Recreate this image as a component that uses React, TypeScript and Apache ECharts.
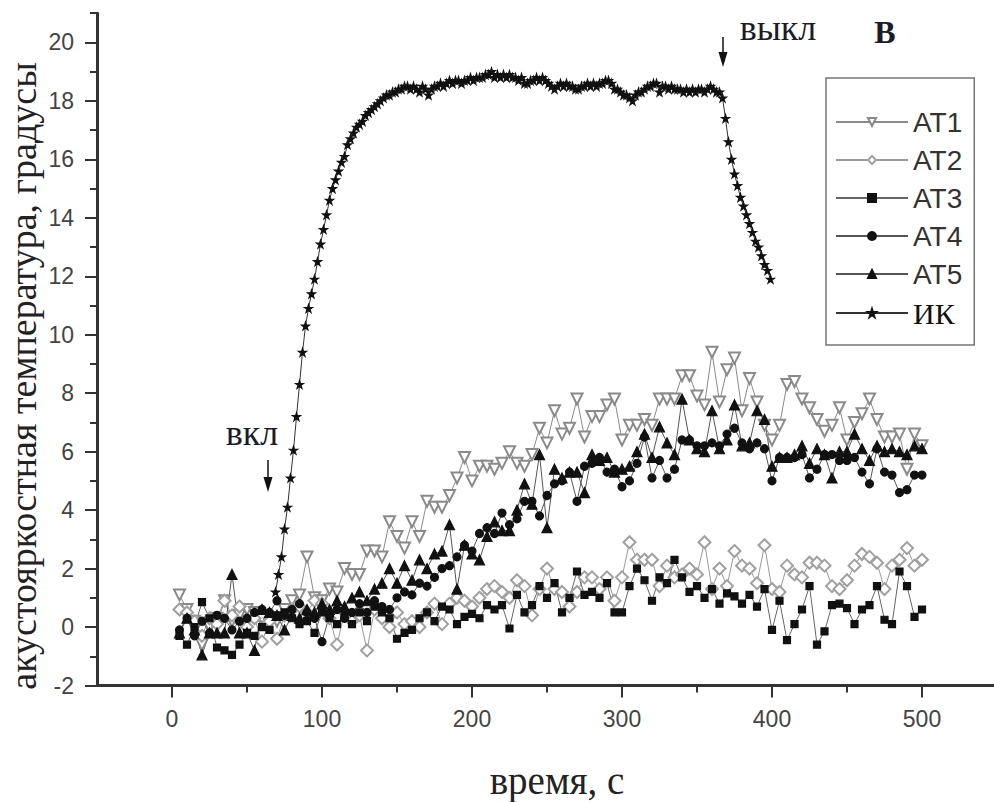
import React, { useEffect, useRef } from "react";
import * as echarts from "echarts";

// time grid of the acoustic channels (s)
const atTime = [
  5, 10, 15, 20, 25, 30, 35, 40, 45, 50,
  55, 60, 65, 70, 75, 80, 85, 90, 95, 100,
  105, 110, 115, 120, 125, 130, 135, 140, 145, 150,
  155, 160, 165, 170, 175, 180, 185, 190, 195, 200,
  205, 210, 215, 220, 225, 230, 235, 240, 245, 250,
  255, 260, 265, 270, 275, 280, 285, 290, 295, 300,
  305, 310, 315, 320, 325, 330, 335, 340, 345, 350,
  355, 360, 365, 370, 375, 380, 385, 390, 395, 400,
  405, 410, 415, 420, 425, 430, 435, 440, 445, 450,
  455, 460, 465, 470, 475, 480, 485, 490, 495, 500,
];

const at1 = [
  1.1, 0.6, 0.2, -0.6, 0.0, 0.3, 0.9, 0.2, 0.4, 0.6,
  0.5, 0.3, 0.1, 0.2, 0.6, 0.9, 1.1, 2.4, 1.0, 0.9,
  1.3, 1.2, 2.0, 1.8, 1.8, 2.6, 2.6, 2.4, 3.6, 3.1,
  2.7, 3.6, 3.1, 4.3, 4.1, 4.1, 4.5, 5.1, 5.8, 5.0,
  5.5, 5.5, 5.4, 5.6, 6.0, 5.6, 5.5, 5.9, 6.8, 6.3,
  7.4, 6.6, 6.8, 7.8, 6.5, 7.2, 7.2, 7.6, 7.8, 6.4,
  6.9, 6.9, 7.1, 6.9, 7.8, 7.8, 7.8, 8.6, 8.6, 7.9,
  7.6, 9.4, 7.7, 8.8, 9.2, 7.4, 8.5, 7.7, 6.9, 6.4,
  6.9, 8.3, 8.4, 7.8, 7.5, 7.1, 6.7, 6.9, 7.5, 6.4,
  7.0, 7.3, 7.8, 7.1, 6.5, 6.5, 6.6, 5.4, 6.6, 6.2,
];

const at2 = [
  0.6, 0.5, 0.2, -0.3, 0.3, 0.1, 0.9, 0.4, 0.7, 0.0,
  0.3, -0.5, 0.2, -0.4, 0.4, 0.6, 0.7, 0.5, 0.9, 0.8,
  0.3, -0.6, 0.5, 0.2, 0.4, -0.8, 0.6, 0.3, 0.0, 0.5,
  0.1, 0.2, 0.0, 0.5, 0.8, 0.1, 0.8, 1.0, 0.9, 0.7,
  1.0, 1.3, 1.4, 1.2, 1.0, 1.6, 1.4, 0.4, 1.3, 2.0,
  1.3, 1.2, 0.7, 1.2, 1.7, 1.7, 1.3, 1.7, 0.9, 1.7,
  2.9, 2.3, 2.3, 2.3, 1.4, 2.1, 1.7, 1.8, 2.0, 1.8,
  2.9, 1.3, 2.0, 1.4, 2.6, 2.1, 2.0, 1.5, 2.8, 1.3,
  1.2, 2.1, 1.8, 1.7, 2.2, 2.2, 2.1, 1.4, 1.3, 1.6,
  2.1, 2.5, 2.4, 2.2, 1.3, 2.1, 2.3, 2.7, 2.1, 2.3,
];

const at3 = [
  -0.3, -0.6, 0.0, 0.85, 0.3, -0.7, -0.8, -0.95, -0.6, -0.2,
  -0.3, 0.0, -0.1, 0.4, 0.5, 0.3, 0.1, 0.2, -0.2, 0.5,
  0.3, 0.1, 0.4, 0.1, 0.5, 0.2, 0.7, 0.5, 0.3, -0.4,
  -0.2, -0.1, 0.3, 0.5, 0.2, 0.7, 0.6, 0.1, 0.35, 0.45,
  0.3, 0.75, 0.6, 0.75, -0.05, 1.1, 0.5, 0.75, 1.4, 1.0,
  1.5, 0.5, 1.0, 1.9, 1.1, 1.2, 1.0, 1.5, 0.5, 0.5,
  1.4, 2.0, 1.6, 0.9, 1.7, 1.5, 2.3, 1.7, 1.2, 1.4,
  1.0, 1.3, 0.8, 1.15, 1.05, 0.8, 1.1, 0.7, 1.3, -0.1,
  0.9, -0.45, 0.1, 0.6, 1.4, -0.6, -0.15, 0.75, 0.8, 0.65,
  0.1, 0.6, 0.75, 1.4, 0.25, 0.1, 1.9, 1.4, 0.35, 0.6,
];

const at4 = [
  -0.1, 0.3, -0.3, 0.2, -0.2, 0.4, 0.3, -0.1, 0.2, 0.3,
  0.5, 0.6, 0.5, 0.9, 0.4, 0.6, 0.8, 0.5, 0.3, -0.5,
  0.4, 0.6, 0.3, 0.5, 0.8, 0.5, 0.9, 0.7, 0.6, 1.0,
  1.2, 1.1, 1.5, 1.4, 1.7, 2.0, 2.1, 2.4, 2.8, 2.6,
  3.2, 3.4, 3.2, 3.9, 3.5, 3.7, 4.3, 4.3, 3.8, 4.5,
  4.9, 5.0, 5.3, 4.3, 5.5, 5.6, 5.8, 5.3, 5.4, 4.8,
  5.0, 5.6, 6.5, 5.1, 5.7, 5.1, 5.4, 6.4, 6.4, 6.2,
  6.2, 6.3, 6.2, 6.6, 6.8, 6.3, 6.1, 6.3, 6.1, 5.0,
  5.8, 5.8, 5.8, 5.9, 5.1, 5.4, 5.9, 5.9, 5.7, 5.7,
  5.8, 5.3, 4.9, 6.1, 5.3, 5.2, 4.6, 4.7, 5.2, 5.2,
];

const at5 = [
  -0.2, 0.3, -0.1, -0.95, -0.2, -0.2, -0.2, 1.8, -0.2, -0.2,
  -0.8, 0.6, 0.5, 0.4, -0.1, 0.4, 0.3, 0.6, 0.5, 0.8,
  0.6, 0.9, 0.7, 1.0, 1.2, 0.9, 1.3, 1.5, 2.0, 1.5,
  2.1, 1.6, 2.3, 2.0, 2.5, 2.6, 3.5, 1.3, 2.8, 2.5,
  2.3, 3.1, 3.6, 3.3, 3.3, 4.0, 4.9, 4.2, 5.9, 3.4,
  5.4, 5.1, 5.3, 5.3, 4.6, 5.9, 5.7, 5.8, 5.3, 5.4,
  5.5, 6.0, 6.6, 5.8, 6.85, 6.3, 5.9, 7.8, 6.4, 6.1,
  6.0, 7.4, 6.1, 6.4, 7.6, 6.2, 6.3, 7.4, 7.1, 5.5,
  5.8, 5.8, 5.9, 6.2, 5.6, 6.1, 5.9, 5.1, 6.0, 6.0,
  6.6, 6.1, 5.7, 6.2, 6.0, 6.1, 6.0, 5.9, 6.2, 6.1,
];

// IR channel, sampled every 2 s
const ikTime = [
  69, 71, 73, 75, 77, 79, 81, 83, 85, 87,
  89, 91, 93, 95, 97, 99, 101, 103, 105, 107,
  109, 111, 113, 115, 117, 119, 121, 123, 125, 127,
  129, 131, 133, 135, 137, 139, 141, 143, 145, 147,
  149, 151, 153, 155, 157, 159, 161, 163, 165, 167,
  169, 171, 173, 175, 177, 179, 181, 183, 185, 187,
  189, 191, 193, 195, 197, 199, 201, 203, 205, 207,
  209, 211, 213, 215, 217, 219, 221, 223, 225, 227,
  229, 231, 233, 235, 237, 239, 241, 243, 245, 247,
  249, 251, 253, 255, 257, 259, 261, 263, 265, 267,
  269, 271, 273, 275, 277, 279, 281, 283, 285, 287,
  289, 291, 293, 295, 297, 299, 301, 303, 305, 307,
  309, 311, 313, 315, 317, 319, 321, 323, 325, 327,
  329, 331, 333, 335, 337, 339, 341, 343, 345, 347,
  349, 351, 353, 355, 357, 359, 361, 363, 365, 367,
  369, 371, 373, 375, 377, 379, 381, 383, 385, 387,
  389, 391, 393, 395, 397, 399,
];

const ik = [
  1.2, 1.8, 2.4, 3.35, 4.1, 5.1, 6.05, 7.2, 8.3, 9.4,
  10.3, 10.9, 11.4, 11.9, 12.5, 13.1, 13.6, 14.1, 14.6, 15.0,
  15.3, 15.6, 15.9, 16.1, 16.5, 16.7, 16.9, 17.1, 17.2, 17.3,
  17.5, 17.6, 17.7, 17.8, 17.9, 18.0, 18.1, 18.2, 18.2, 18.3,
  18.3, 18.4, 18.4, 18.5, 18.5, 18.4, 18.5, 18.4, 18.3, 18.5,
  18.4, 18.2, 18.4, 18.5, 18.5, 18.6, 18.5, 18.6, 18.7, 18.6,
  18.7, 18.7, 18.6, 18.7, 18.7, 18.8, 18.7, 18.8, 18.8, 18.8,
  18.9, 18.9, 19.0, 18.8, 18.9, 18.8, 18.9, 18.8, 18.9, 18.8,
  18.8, 18.7, 18.8, 18.6, 18.6, 18.7, 18.7, 18.8, 18.7, 18.8,
  18.7, 18.6, 18.5, 18.4, 18.5, 18.6, 18.5, 18.6, 18.5, 18.5,
  18.4, 18.4, 18.5, 18.5, 18.6, 18.5, 18.6, 18.5, 18.6, 18.6,
  18.7, 18.7, 18.6, 18.4, 18.4, 18.3, 18.2, 18.2, 18.1, 18.0,
  18.2, 18.3, 18.3, 18.4, 18.5, 18.5, 18.6, 18.6, 18.3, 18.5,
  18.5, 18.4, 18.5, 18.4, 18.4, 18.4, 18.3, 18.4, 18.3, 18.4,
  18.3, 18.4, 18.4, 18.3, 18.4, 18.5, 18.4, 18.3, 18.3, 18.1,
  17.4, 16.6, 16.0, 15.5, 15.1, 14.7, 14.4, 14.1, 13.8, 13.5,
  13.2, 13.0, 12.7, 12.4, 12.2, 11.9,
];

const seriesNames = ["AT1", "AT2", "AT3", "AT4", "AT5", "ИК"];

const xMajorTicks = [0, 100, 200, 300, 400, 500];
const xMinorTicks = [50, 150, 250, 350, 450, 550];
const yMajorTicks = [-2, 0, 2, 4, 6, 8, 10, 12, 14, 16, 18, 20];
const yMinorTicks = [-1, 1, 3, 5, 7, 9, 11, 13, 15, 17, 19, 21];

const STAR =
  "path://M0,-10L2.25,-3.09L9.51,-3.09L3.63,1.18L5.88,8.09L0,3.82L-5.88,8.09L-3.63,1.18L-9.51,-3.09L-2.25,-3.09Z";

const AXIS_COLOR = "#333";
const LABEL_COLOR = "#444";
const SANS = '"Liberation Sans", Arial, sans-serif';
const SERIF = '"Liberation Serif", "Times New Roman", serif';

function lineSeries(
  name: string,
  times: number[],
  vals: number[],
  symbol: string,
  size: number,
  color: string,
  lineColor: string,
  rotate = 0
) {
  return {
    type: "line",
    name,
    xAxisIndex: 0,
    yAxisIndex: 0,
    data: times.map((t, i) => [t, vals[i]]),
    symbol,
    symbolSize: size,
    symbolRotate: rotate,
    showSymbol: true,
    showAllSymbol: true,
    lineStyle: { color: lineColor, width: 1 },
    itemStyle: { color, borderColor: color, borderWidth: 1.2 },
    emphasis: { disabled: true },
  };
}

export default function App() {
  const ref = useRef<HTMLDivElement>(null);

  useEffect(() => {
    if (!ref.current) return;
    const chart = echarts.init(ref.current, undefined, { renderer: "svg" });

    const option: any = {
      animation: false,
      backgroundColor: "#fff",
      grid: {
        left: 97,
        top: 13.2,
        right: -3,
        bottom: 116.5,
        containLabel: false,
        outerBoundsMode: "none",
      },
      legend: {
        show: true,
        orient: "vertical",
        left: 826,
        top: 78,
        data: seriesNames,
        itemWidth: 72,
        itemHeight: 10,
        itemGap: 10,
        padding: [30, 12, 17, 9],
        borderColor: "#777",
        borderWidth: 1.5,
        borderRadius: 0,
        backgroundColor: "#fff",
        selectedMode: false,
        formatter: (name: string) => (name === "ИК" ? `{ik|${name}}` : `{at|${name}}`),
        textStyle: {
          lineHeight: 28,
          rich: {
            at: { fontFamily: SANS, fontSize: 28, color: "#333", lineHeight: 28 },
            ik: { fontFamily: SERIF, fontSize: 30, color: "#111", lineHeight: 28 },
          },
        },
      },
      xAxis: [
        {
          type: "value",
          min: -50,
          max: 550,
          position: "bottom",
          axisLine: { show: true, onZero: false, lineStyle: { color: AXIS_COLOR, width: 3 } },
          axisTick: {
            show: true,
            customValues: xMajorTicks,
            length: 12,
            lineStyle: { color: AXIS_COLOR, width: 2 },
          },
          axisLabel: {
            show: true,
            customValues: xMajorTicks,
            margin: 22,
            fontFamily: SANS,
            fontSize: 23,
            color: LABEL_COLOR,
          },
          splitLine: { show: false },
        },
        {
          type: "value",
          min: -50,
          max: 550,
          position: "bottom",
          axisLine: { show: false, onZero: false },
          axisTick: {
            show: true,
            customValues: xMinorTicks,
            length: 7,
            lineStyle: { color: AXIS_COLOR, width: 2 },
          },
          axisLabel: { show: false },
          splitLine: { show: false },
        },
      ],
      yAxis: [
        {
          type: "value",
          min: -2,
          max: 21,
          position: "left",
          axisLine: { show: true, onZero: false, lineStyle: { color: AXIS_COLOR, width: 3 } },
          axisTick: {
            show: true,
            customValues: yMajorTicks,
            length: 12,
            lineStyle: { color: AXIS_COLOR, width: 2 },
          },
          axisLabel: {
            show: true,
            customValues: yMajorTicks,
            margin: 23,
            fontFamily: SANS,
            fontSize: 23,
            color: LABEL_COLOR,
          },
          splitLine: { show: false },
        },
        {
          type: "value",
          min: -2,
          max: 21,
          position: "left",
          axisLine: { show: false, onZero: false },
          axisTick: {
            show: true,
            customValues: yMinorTicks,
            length: 7,
            lineStyle: { color: AXIS_COLOR, width: 2 },
          },
          axisLabel: { show: false },
          splitLine: { show: false },
        },
      ],
      series: [
        lineSeries("AT1", atTime, at1, "emptyTriangle", 11, "#8a8a8a", "#8a8a8a", 180),
        lineSeries("AT2", atTime, at2, "emptyDiamond", 12, "#a0a0a0", "#9a9a9a"),
        lineSeries("AT3", atTime, at3, "rect", 7, "#111", "#666"),
        lineSeries("AT4", atTime, at4, "circle", 8, "#111", "#555"),
        lineSeries("AT5", atTime, at5, "triangle", 10, "#111", "#555"),
        lineSeries("ИК", ikTime, ik, STAR, 8, "#111", "#333"),
      ],
      graphic: [
        {
          type: "text",
          x: 23,
          y: 376,
          rotation: Math.PI / 2,
          style: {
            text: "акустояркостная температура, градусы",
            font: `38px ${SERIF}`,
            fill: "#222",
            align: "center",
            verticalAlign: "middle",
            textAlign: "center",
            textVerticalAlign: "middle",
          },
        },
        {
          type: "text",
          x: 557,
          y: 780,
          style: {
            text: "время, с",
            font: `39px ${SERIF}`,
            fill: "#222",
            align: "center",
            verticalAlign: "middle",
            textAlign: "center",
            textVerticalAlign: "middle",
          },
        },
        {
          type: "text",
          x: 252,
          y: 433,
          style: {
            text: "вкл",
            font: `36px ${SERIF}`,
            fill: "#1b1b2b",
            align: "center",
            verticalAlign: "middle",
            textAlign: "center",
            textVerticalAlign: "middle",
          },
        },
        {
          type: "text",
          x: 778,
          y: 28,
          style: {
            text: "выкл",
            font: `36px ${SERIF}`,
            fill: "#1b1b2b",
            align: "center",
            verticalAlign: "middle",
            textAlign: "center",
            textVerticalAlign: "middle",
          },
        },
        {
          type: "text",
          x: 885,
          y: 32,
          style: {
            text: "В",
            font: `bold 32px ${SERIF}`,
            fill: "#1b1b2b",
            align: "center",
            verticalAlign: "middle",
            textAlign: "center",
            textVerticalAlign: "middle",
          },
        },
        {
          type: "line",
          shape: { x1: 268, y1: 460, x2: 268, y2: 480 },
          style: { stroke: "#111", lineWidth: 1.5 },
        },
        {
          type: "polygon",
          shape: { points: [[263.5, 477], [272.5, 477], [268, 492]] },
          style: { fill: "#111" },
        },
        {
          type: "line",
          shape: { x1: 723, y1: 37, x2: 723, y2: 56 },
          style: { stroke: "#111", lineWidth: 1.5 },
        },
        {
          type: "polygon",
          shape: { points: [[718.5, 52], [727.5, 52], [723, 67]] },
          style: { fill: "#111" },
        },
      ],
    };

    chart.setOption(option);
    return () => chart.dispose();
  }, []);

  return (
    <div
      ref={ref}
      style={{ position: "fixed", left: 0, top: 0, width: 994, height: 802, background: "#fff" }}
    />
  );
}
